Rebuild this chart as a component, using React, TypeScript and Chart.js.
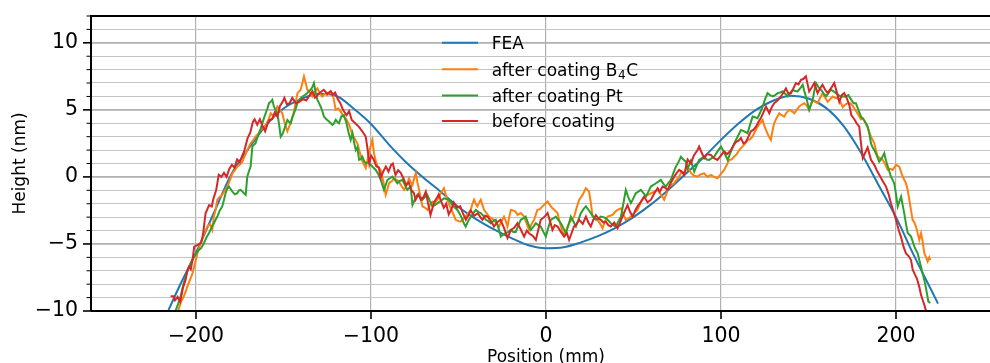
import React, { useEffect, useRef } from "react";
import { Chart, registerables } from "chart.js";

Chart.register(...registerables);

// ---------- data ----------
const xTicks = [-200, -100, 0, 100, 200];
const yTicks = [-10, -9, -8, -7, -6, -5, -4, -3, -2, -1, 0, 1, 2, 3, 4, 5, 6, 7, 8, 9, 10, 11, 12];
const legendLabels = ["FEA", "after coating B4C", "after coating Pt", "before coating"];

const fea: [number, number][] = [
  [-218, -10.6], [-210, -8.3], [-200, -5.65], [-190, -2.75], [-180, 0.15], [-170, 2.1], [-160, 3.85],
  [-150, 5.1], [-140, 5.8], [-130, 6.2], [-120, 6.05], [-110, 5.1], [-100, 3.95], [-90, 2.45],
  [-80, 1.1], [-70, -0.06], [-60, -1.12], [-50, -2.25], [-40, -3.15], [-30, -3.9], [-20, -4.55],
  [-10, -5.1], [0, -5.32], [10, -5.25], [20, -4.88], [30, -4.4], [40, -3.78], [50, -3.0],
  [60, -2.05], [70, -0.95], [80, 0.25], [90, 1.45], [100, 2.76], [110, 3.98], [120, 5.0],
  [130, 5.7], [140, 6.05], [150, 5.85], [160, 5.15], [170, 3.8], [180, 1.8], [190, -0.6],
  [200, -3.0], [210, -5.8], [220, -8.4], [224, -9.45],
];

const afterB4C: [number, number][] = [
  [-210.5, -10.2], [-209.7, -9.78], [-208.5, -9.3], [-207, -8.93], [-206, -8.6], [-205, -8.2], [-203.5, -7.7],
  [-202, -7.2], [-200.5, -6.4], [-199, -5.6], [-197.5, -5.0], [-196.4, -4.6], [-195, -4.1], [-193.5, -3.7],
  [-192, -3.5], [-190.7, -3.95], [-189.8, -2.96], [-188.8, -2.46], [-187.8, -1.7], [-186.5, -1.5],
  [-185, -1.34], [-183.5, -1.0], [-182, -0.72], [-180.5, -0.2], [-179.2, 0.27], [-177.8, 0.5],
  [-176.4, 0.77], [-175, 0.9], [-173.5, 1.14], [-172, 1.6], [-170.7, 2.0], [-168.8, 2.5], [-167.5, 2.7],
  [-166, 3.0], [-164.5, 3.2], [-163, 3.5], [-161.5, 3.7], [-160, 3.9], [-158.5, 4.3], [-157.3, 4.75],
  [-155.5, 4.5], [-154.5, 4.9], [-153.5, 5.25], [-152, 5.0], [-150.7, 4.75], [-149.3, 4.0], [-147.8, 3.4],
  [-146, 4.0], [-144, 4.87], [-143, 5.6], [-142, 6.25], [-140.2, 6.5], [-139.2, 7.0], [-138.3, 7.5],
  [-137.3, 7.0], [-136.4, 6.5], [-135, 6.3], [-133.5, 6.0], [-132, 6.4], [-130.6, 6.6], [-129.2, 6.2],
  [-127.8, 6.0], [-126.4, 6.2], [-125, 6.1], [-123.5, 6.3], [-122, 6.25], [-121, 5.6], [-120.2, 5.0],
  [-118.7, 5.1], [-117.3, 4.87], [-115.7, 4.5], [-114, 4.3], [-112.5, 3.9], [-111, 3.3], [-109.5, 2.9],
  [-107.8, 2.5], [-106.5, 1.9], [-105, 1.2], [-103, 0.65], [-101.5, 1.6], [-100.2, 2.3], [-99.2, 2.76],
  [-98.3, 1.77], [-97.3, 1.2], [-96.3, 0.77], [-94.5, 0.52], [-93, -0.3], [-91.6, -1.34], [-90.6, -0.9],
  [-89.7, -0.47], [-88, -0.3], [-86.8, -0.1], [-85.5, -0.2], [-84, -0.35], [-82.5, -0.7], [-81, -0.97],
  [-79.5, -0.6], [-78.3, -0.1], [-77.3, -0.4], [-76.3, -0.6], [-75.3, -0.1], [-74.4, 0.27], [-73.5, -0.4],
  [-72.5, -0.97], [-71.5, -1.6], [-70.6, -2.2], [-69, -2.3], [-67.7, -2.46], [-66.3, -2.1], [-64.9, -1.84],
  [-63.5, -1.9], [-62, -1.7], [-60, -1.2], [-58.3, -0.84], [-57.3, -1.3], [-56.3, -1.7], [-54.9, -2.2],
  [-53.5, -2.6], [-51.6, -3.2], [-50, -3.3], [-48.7, -3.34], [-47.3, -3.1], [-45.9, -2.96], [-44.4, -2.7],
  [-43, -2.46], [-42, -2.0], [-41.1, -1.7], [-40.1, -2.0], [-39.2, -2.2], [-38.2, -1.9], [-37.3, -1.7],
  [-36.3, -2.1], [-35.4, -2.46], [-34, -2.7], [-32.5, -2.96], [-31, -3.1], [-29.7, -3.2], [-28.2, -3.5],
  [-26.8, -3.7], [-25.4, -3.3], [-24, -2.96], [-23, -3.3], [-22, -3.7], [-21, -3.0], [-20.1, -2.46],
  [-18.7, -2.5], [-17.3, -2.6], [-16.3, -2.84], [-14.4, -2.7], [-12.5, -2.96], [-11, -3.5], [-9.7, -3.95],
  [-8.2, -3.5], [-6.8, -3.2], [-5.8, -2.8], [-4.9, -2.46], [-3.5, -2.4], [-2, -2.2], [-0.5, -2.0],
  [0.9, -1.84], [2.3, -2.1], [3.7, -2.34], [5.1, -2.5], [6.6, -2.7], [7.5, -3.2], [8.5, -3.7], [9.5, -4.1],
  [10.4, -4.33], [11.8, -3.9], [13.2, -3.45], [14.6, -3.2], [16.1, -2.96], [17.5, -2.3], [19, -1.7],
  [20.9, -1.34], [22.8, -0.84], [24.6, -1.1], [25.6, -1.9], [26.6, -2.96], [28, -3.1], [29.4, -3.2],
  [31, -3.5], [32.3, -3.83], [33.7, -3.3], [35.2, -2.96], [36.6, -2.9], [38, -2.84], [39.5, -2.6],
  [40.9, -2.46], [42.8, -2.34], [44.2, -2.8], [45.6, -3.2], [47, -3.1], [48.5, -2.96], [50.4, -2.7],
  [52.3, -2.46], [54.2, -1.9], [56.1, -1.47], [58, -1.35], [60, -1.22], [61.9, -1.1], [63.8, -0.97],
  [65.6, -1.3], [67.5, -1.7], [69, -1.2], [70.4, -0.72], [71.8, -0.6], [73.2, -0.47], [74.7, -0.2],
  [76.1, 0.02], [77.5, 0.4], [79, 0.3], [80.9, 0.8], [82.8, 0.3], [84.5, 0.1], [86.6, 0.02], [88.5, 0.2],
  [90.4, 0.27], [92.3, 0.0], [94.2, 0.15], [96, 0.0], [98, -0.1], [99.9, 0.2], [101.8, 0.52], [103.3, 0.9],
  [104.7, 1.27], [106, 1.3], [107.5, 1.5], [109, 1.7], [110.4, 2.0], [111.8, 2.2], [113.3, 2.4],
  [115.2, 2.76], [116.6, 2.8], [118, 3.0], [119.5, 3.4], [120.9, 3.75], [122.3, 4.0], [123.8, 4.25],
  [124.8, 3.8], [125.7, 3.5], [127, 3.1], [128.5, 2.76], [129.5, 3.5], [130.4, 4.0], [131.8, 4.4],
  [133.3, 4.75], [134.7, 4.6], [136.1, 4.5], [137.5, 4.8], [139, 5.0], [140.5, 4.9], [141.9, 4.75],
  [143.3, 5.0], [144.7, 5.25], [146.2, 5.4], [147.6, 5.5], [149, 5.3], [150.4, 5.0], [151.4, 5.4],
  [152.4, 5.75], [153.8, 5.6], [155.2, 5.5], [156.7, 5.9], [158.1, 6.25], [159.5, 5.9], [161, 5.6],
  [162.4, 5.8], [163.8, 6.0], [165.2, 5.9], [166.7, 5.87], [168.2, 5.6], [169.6, 5.2], [171, 5.4],
  [172.4, 5.5], [173.8, 5.5], [175.3, 5.3], [176.7, 5.0], [178.2, 4.7], [180, 4.3], [181, 4.38],
  [182.8, 4.0], [184.3, 3.5], [185.7, 3.0], [187.6, 2.5], [188.5, 2.0], [189.5, 1.5], [191, 1.4],
  [192.4, 1.27], [194, 0.9], [195.3, 0.52], [196.7, 0.6], [198.1, 0.52], [199, 0.7], [200, 0.9],
  [201.9, 0.77], [203.8, 0.02], [205.7, -0.47], [206.7, -1.0], [207.6, -1.7], [208.6, -2.5], [209.5, -3.2],
  [210.5, -3.4], [211.4, -3.7], [212.4, -4.2], [213.3, -4.7], [214.3, -4.2], [215.2, -4.8], [216.2, -5.7],
  [217.2, -6.0], [218.1, -6.3], [219, -6.0], [219.6, -6.2],
];

const afterPt: [number, number][] = [
  [-212.3, -10.3], [-211.5, -9.93], [-210, -9.4], [-208.8, -8.93], [-207.9, -8.4], [-207, -7.93], [-205.5, -7.3],
  [-204, -6.7], [-202.6, -6.3], [-201.2, -5.95], [-199.8, -5.7], [-198.3, -5.45], [-197, -5.3], [-195.5, -4.95],
  [-194, -4.5], [-192.6, -4.2], [-191.2, -3.8], [-189.8, -3.45], [-188.8, -3.2], [-187.8, -2.96], [-186.4, -2.5],
  [-185, -2.2], [-184, -1.7], [-183.1, -1.22], [-182.2, -0.9], [-181.2, -0.72], [-180.2, -0.9], [-179.2, -1.1],
  [-177.8, -1.3], [-176.4, -1.22], [-175.4, -1.0], [-174.5, -0.97], [-173.5, -1.1], [-172.6, -1.22],
  [-171.6, -1.34], [-170.7, 0.02], [-169.8, 0.4], [-168.8, 0.77], [-168.3, 1.5], [-167.8, 2.26], [-166.9, 2.4],
  [-166, 2.5], [-165, 2.9], [-164, 3.26], [-163, 3.6], [-162.1, 4.0], [-161.1, 4.4], [-160.2, 4.75],
  [-159.2, 5.1], [-158.3, 5.5], [-157.3, 5.6], [-156.4, 5.75], [-155.5, 5.25], [-154.5, 5.0], [-153.5, 4.75],
  [-152.5, 3.9], [-151.6, 3.0], [-150.6, 3.2], [-149.7, 3.5], [-148.7, 3.9], [-147.8, 4.25], [-146.8, 4.1],
  [-145.9, 4.0], [-145, 4.4], [-144, 4.75], [-143, 5.1], [-142.1, 5.5], [-140.7, 5.8], [-139.2, 6.0],
  [-137.8, 6.1], [-136.4, 6.25], [-135.5, 6.4], [-134.5, 6.5], [-133.5, 6.7], [-132.6, 7.0], [-131.6, 6.3],
  [-130.6, 5.75], [-129.7, 5.5], [-128.8, 5.25], [-127.8, 4.9], [-126.9, 4.5], [-125.5, 4.3], [-124, 4.13],
  [-123, 4.0], [-122, 3.88], [-121.1, 4.0], [-120.2, 4.25], [-119.2, 4.1], [-118.3, 4.0], [-117, 4.5],
  [-115.5, 4.6], [-114, 4.0], [-112.8, 3.3], [-111.6, 2.76], [-110.6, 3.26], [-109.7, 2.6], [-108.7, 2.0],
  [-107.8, 2.2], [-106.8, 1.27], [-105.9, 1.3], [-104.9, 1.5], [-104, 1.2], [-103, 1.0], [-101.6, 1.1],
  [-100.1, 0.9], [-98.7, 0.7], [-97.3, 0.52], [-95.8, 0.2], [-94.4, -0.22], [-93.5, -0.6], [-92.6, -0.97],
  [-91.6, -0.6], [-90.6, -0.22], [-89.2, -0.1], [-87.8, 0.02], [-86.4, -0.2], [-84.9, -0.47], [-83.5, -0.3],
  [-82, -0.22], [-80.6, -0.6], [-79.2, -0.97], [-78.3, -0.85], [-77.3, -0.72], [-76.3, -2.1], [-75, -1.7],
  [-73.5, -1.34], [-72, -1.5], [-70.6, -1.7], [-69.2, -1.5], [-67.8, -1.34], [-66.3, -1.8], [-64.9, -2.2],
  [-63.5, -2.1], [-62, -1.96], [-60.2, -1.8], [-58.3, -1.6], [-56.9, -1.65], [-55.4, -1.7], [-53.5, -2.1],
  [-52, -2.3], [-50.6, -2.46], [-49.1, -2.8], [-47.7, -3.2], [-46.8, -3.5], [-45.9, -3.7], [-44.5, -3.3],
  [-43, -2.96], [-41.5, -2.7], [-40.1, -2.46], [-38.7, -2.6], [-37.3, -2.7], [-35.8, -2.9], [-34.4, -3.2],
  [-33, -3.3], [-31.6, -3.45], [-30.1, -3.3], [-28.7, -3.2], [-27.2, -3.8], [-25.8, -4.45], [-24.4, -4.3],
  [-23, -4.2], [-21.5, -4.1], [-20.1, -3.95], [-18.7, -4.1], [-17.3, -4.1], [-15.8, -3.6], [-14.4, -3.2],
  [-13, -3.1], [-11.6, -2.96], [-10.1, -3.5], [-8.7, -3.95], [-7.2, -3.7], [-5.8, -3.45], [-4.4, -3.6],
  [-3, -3.7], [-1.5, -4.1], [-0.1, -4.45], [1.3, -3.8], [2.7, -3.2], [4.1, -3.1], [5.6, -2.96], [7, -3.2],
  [8.5, -3.45], [9.9, -3.8], [11.3, -4.2], [12.8, -3.6], [14.2, -2.96], [15.6, -3.3], [17.1, -3.7],
  [18.5, -3.2], [19.9, -2.7], [21.4, -2.4], [22.8, -2.2], [24.2, -2.45], [25.6, -2.7], [27, -2.95],
  [28.5, -3.2], [29.9, -3.1], [31.3, -2.96], [32.8, -3.0], [34.2, -3.08], [35.6, -3.25], [37, -3.45],
  [38.5, -3.6], [39.9, -3.7], [41.4, -3.3], [42.8, -2.96], [44.2, -2.0], [45.6, -0.97], [47, -1.5],
  [48.5, -1.96], [49.9, -1.6], [51.3, -1.22], [52.8, -1.1], [54.2, -0.97], [55.7, -1.2], [57.1, -1.47],
  [58.5, -1.1], [59.9, -0.72], [61.4, -0.6], [62.8, -0.47], [64.2, -0.35], [65.6, -0.22], [67, -0.5],
  [68.5, -0.72], [70, -0.45], [71.4, -0.22], [72.8, 0.3], [74.2, 0.77], [75.7, 1.1], [77.1, 1.5], [78.5, 1.3],
  [79.9, 1.14], [80.9, 0.6], [82.8, 1.2], [84.7, 0.4], [86, 0.8], [87.5, 1.27], [89, 1.4], [90.4, 1.5],
  [91.8, 1.3], [93.3, 1.27], [94.7, 1.4], [96.1, 1.5], [98, 1.9], [100, 2.26], [101.9, 1.8], [103.8, 1.27],
  [105.7, 1.9], [107.5, 2.5], [109.5, 3.0], [111.4, 3.5], [113.3, 3.4], [115.2, 3.26], [116.6, 3.9],
  [118.1, 4.5], [119.5, 4.45], [120.9, 4.38], [122.4, 4.8], [123.8, 5.25], [125.2, 5.8], [126.6, 6.25],
  [128, 6.1], [129.5, 6.0], [130.9, 6.1], [132.4, 6.25], [133.8, 6.3], [135.2, 6.37], [136.7, 6.2],
  [138.1, 6.0], [139.5, 6.25], [141, 6.5], [142.4, 6.4], [143.8, 6.37], [145.2, 6.6], [146.7, 6.87],
  [147.6, 6.4], [148.5, 6.0], [149.5, 5.5], [150.4, 5.0], [151.4, 5.4], [152.4, 5.75], [153.3, 6.4],
  [154.3, 7.0], [155.7, 6.7], [157.1, 6.5], [158.5, 6.25], [160, 6.0], [161.4, 6.25], [162.8, 6.5],
  [164.2, 6.4], [165.7, 6.25], [167.1, 6.1], [168.5, 6.0], [170, 6.0], [171.4, 6.0], [172.8, 6.1],
  [174.2, 5.8], [175.7, 5.5], [177.1, 5.5], [178.5, 5.0], [180, 4.5], [181.4, 4.3], [182.8, 4.0],
  [183.8, 3.75], [184.7, 3.26], [185.7, 2.5], [186.6, 2.2], [187.6, 2.0], [189, 1.6], [190.4, 1.14],
  [191.9, 1.4], [193.3, 1.77], [194.3, 1.2], [195.3, 0.77], [196.2, 0.4], [197.1, 0.02], [198, -0.2],
  [199, -0.47], [200, -1.3], [201, -2.2], [202, -1.8], [202.9, -1.47], [203.8, -2.1], [204.7, -2.7],
  [205.7, -3.5], [206.7, -4.2], [207.6, -4.3], [208.6, -4.45], [209.5, -4.8], [210.5, -5.2], [211.4, -5.45],
  [212.4, -5.7], [213.3, -6.2], [214.3, -6.7], [215.2, -7.2], [216.2, -7.7], [217, -8.2], [217.7, -8.7],
  [218.5, -9.3], [219.6, -9.4],
];

const beforeCoating: [number, number][] = [
  [-214.5, -8.9], [-213, -8.9], [-212, -9.2], [-210.5, -8.95], [-209, -9.3], [-207.5, -8.3], [-206, -7.7],
  [-205, -7.0], [-204, -6.7], [-203, -6.9], [-202, -6.2], [-201, -5.2], [-199.5, -5.1], [-198, -5.0],
  [-197, -4.9], [-196, -4.3], [-195, -3.2], [-194.5, -2.7], [-193.5, -2.4], [-192.5, -2.1], [-191, -2.2],
  [-190, -1.6], [-188.5, -1.0], [-187, 0.15], [-185.5, 0.0], [-184, 0.3], [-182.5, 0.0], [-181, 0.6],
  [-179.5, 0.9], [-178, 0.7], [-176.5, 1.3], [-175, 1.1], [-173.5, 1.6], [-172.5, 1.9], [-171.5, 2.4],
  [-170.5, 2.9], [-169, 3.3], [-167.5, 4.1], [-166.5, 4.3], [-165, 3.9], [-163.5, 4.3], [-162, 3.8],
  [-160.5, 3.4], [-159, 4.0], [-158, 4.25], [-156.5, 4.3], [-155, 4.8], [-153.5, 4.5], [-152, 5.3],
  [-150.5, 5.6], [-149.5, 5.9], [-148, 5.4], [-146.5, 5.5], [-145, 5.9], [-143, 5.5], [-141, 5.6],
  [-139, 5.8], [-137, 5.7], [-135.5, 6.0], [-133.5, 6.4], [-132, 5.9], [-130.5, 6.1], [-129, 6.3],
  [-127, 6.5], [-125, 6.2], [-123, 6.4], [-122, 6.1], [-120.5, 6.3], [-119, 5.8], [-117.5, 5.5],
  [-116, 5.0], [-114, 4.6], [-112.5, 4.9], [-111, 4.25], [-109, 4.0], [-107, 3.75], [-105, 3.4],
  [-103, 3.0], [-102, 2.1], [-101, 1.0], [-100, 1.6], [-98.5, 1.3], [-97, 0.8], [-95.5, 0.7], [-94.5, -0.07],
  [-93, 0.4], [-91.5, 0.77], [-90, 0.4], [-88.5, 0.9], [-87.5, 1.0], [-86, 0.15], [-84.5, 0.5], [-83, 0.3],
  [-81.5, -0.1], [-80, -0.6], [-78.5, -0.4], [-77, -0.97], [-75.5, -1.2], [-74.5, -1.7], [-73, -1.3],
  [-71.5, -1.7], [-70, -1.5], [-68.7, -1.1], [-67.5, -1.9], [-66, -2.84], [-64, -1.9], [-62.5, -1.6],
  [-61.3, -1.3], [-60, -1.8], [-58.4, -2.3], [-57, -2.0], [-55.6, -2.8], [-54, -2.4], [-52.7, -1.9],
  [-51, -2.3], [-49, -2.2], [-47.5, -2.7], [-45.8, -3.2], [-44.5, -2.9], [-43, -2.5], [-41, -2.9],
  [-39, -2.7], [-37.5, -3.0], [-36.3, -3.2], [-34.8, -2.9], [-33.4, -2.96], [-31.5, -3.3], [-29.7, -3.7],
  [-28, -3.4], [-26, -3.2], [-24, -3.8], [-22, -4.55], [-20, -3.95], [-18.2, -3.8], [-16.3, -3.45],
  [-14.5, -3.9], [-12.5, -4.45], [-11, -4.0], [-9.7, -4.2], [-7.5, -4.4], [-5.8, -4.7], [-4.5, -4.0],
  [-3, -3.2], [-1, -3.0], [0.9, -2.7], [2.3, -3.3], [3.7, -3.95], [5, -3.6], [6.6, -3.7], [8.5, -4.1],
  [10.4, -4.45], [12, -4.2], [13.2, -4.7], [14.6, -4.2], [16, -3.7], [17.5, -3.5], [19, -3.2], [21, -3.5],
  [22.8, -2.96], [24.2, -3.4], [25.6, -3.7], [27, -3.2], [28.5, -2.84], [30, -3.1], [31.3, -3.2],
  [32.8, -3.4], [34.2, -3.34], [35.6, -3.6], [37, -3.7], [39, -3.4], [40.9, -3.83], [42.3, -3.4],
  [43.7, -2.96], [45.2, -2.5], [46.6, -2.1], [48, -2.6], [49.5, -2.96], [51, -2.5], [52.3, -2.2],
  [54, -1.9], [56.1, -1.47], [58, -1.9], [60, -1.7], [62, -1.2], [63.8, -0.84], [65, -1.1], [66.6, -0.72],
  [68, -0.8], [69.5, -0.97], [71.5, -0.4], [73.3, 0.02], [74.7, 0.3], [76.1, 0.52], [77.5, 0.4], [79, 0.15],
  [80.9, 1.3], [82.8, 1.0], [84.5, 1.6], [86.6, 2.0], [87.5, 2.26], [89, 1.8], [90.4, 1.4], [92, 1.7],
  [94.2, 1.64], [96, 1.4], [98, 1.27], [100, 1.6], [101.8, 1.9], [103.5, 1.7], [105.7, 2.0], [107, 2.3],
  [108.5, 2.6], [110, 2.7], [111.4, 2.9], [112.8, 2.5], [114.2, 2.6], [115.7, 3.0], [117.1, 3.4],
  [118.5, 3.5], [120, 3.75], [121.4, 4.1], [122.8, 4.4], [124.2, 4.8], [125.7, 5.25], [127.6, 4.75],
  [129, 5.2], [130.4, 5.5], [132.3, 5.7], [134.2, 6.0], [135.7, 6.3], [137.1, 6.6], [138.5, 6.2],
  [140, 6.25], [141.4, 6.6], [142.8, 7.0], [144.3, 6.9], [145.7, 7.24], [147, 7.3], [148.5, 7.5],
  [149.5, 6.9], [150.4, 6.37], [152, 6.7], [153.3, 7.0], [154.3, 6.6], [155.2, 6.25], [156.6, 6.6],
  [158, 6.87], [159.5, 6.5], [160.9, 6.25], [162.8, 6.6], [164.7, 7.0], [166, 6.4], [167.6, 5.6],
  [169, 6.1], [170.4, 6.25], [171.8, 5.9], [173.3, 5.37], [174.5, 4.6], [176.2, 4.3], [177.5, 4.0],
  [179, 3.75], [180, 2.5], [181, 1.4], [182.4, 1.8], [183.8, 2.2], [184.8, 1.7], [185.7, 1.27],
  [187.6, 0.9], [189, 0.5], [190.5, 0.15], [192.4, -0.3], [194.3, -0.72], [195.8, -1.3], [197.1, -1.96],
  [198.6, -2.6], [200, -3.2], [201.4, -3.9], [202.8, -4.45], [204.3, -5.2], [205.7, -5.7], [207.2, -5.9],
  [208.6, -6.2], [209.5, -6.9], [210.5, -7.2], [212, -7.6], [213.3, -8.2], [214.3, -8.8], [215.3, -9.2],
  [216.3, -9.6], [217.2, -10.0], [217.6, -10.3],
];

const seriesColors = ["#1f77b4", "#ff7f0e", "#2ca02c", "#d62728"];

// ---------- layout constants ----------
const CANVAS_W = 1010;
const CANVAS_H = 380;
const AREA_LEFT = 91;
const AREA_TOP = 16;
const AREA_BOTTOM = 311;
const AREA_RIGHT = 1001;
const FONT = "'DejaVu Sans', sans-serif";

const fmt = (v: number) => (v < 0 ? "\u2212" + Math.abs(v) : String(v));

const decorPlugin = {
  id: "decor",
  afterDraw(chart: any) {
    const { ctx, chartArea, scales } = chart;
    const { left, right, top, bottom } = chartArea;
    ctx.save();
    // spines
    ctx.strokeStyle = "#000";
    ctx.lineWidth = 2;
    ctx.lineCap = "butt";
    ctx.beginPath();
    ctx.moveTo(left, bottom);
    ctx.lineTo(left, top);
    ctx.lineTo(right, top);
    ctx.lineTo(right, bottom);
    ctx.lineTo(left, bottom);
    ctx.stroke();
    // y tick marks
    for (const v of yTicks) {
      const y = scales.y.getPixelForValue(v);
      const major = v % 5 === 0;
      ctx.lineWidth = major ? 1.6 : 1;
      ctx.beginPath();
      ctx.moveTo(left, y);
      ctx.lineTo(left - (major ? 8 : 4.5), y);
      ctx.stroke();
    }
    // x tick marks
    for (const v of xTicks) {
      const x = scales.x.getPixelForValue(v);
      ctx.lineWidth = 1.6;
      ctx.beginPath();
      ctx.moveTo(x, bottom);
      ctx.lineTo(x, bottom + 8);
      ctx.stroke();
    }
    // axis titles
    ctx.fillStyle = "#000";
    ctx.font = `17px ${FONT}`;
    ctx.textAlign = "center";
    ctx.textBaseline = "alphabetic";
    ctx.fillText("Position (mm)", (left + right) / 2, 361.7);
    ctx.save();
    ctx.translate(25, (top + bottom) / 2);
    ctx.rotate(-Math.PI / 2);
    ctx.fillText("Height (nm)", 0, 0);
    ctx.restore();
    // legend
    const lx0 = 442;
    const lx1 = 478;
    const tx = 491.7;
    const rowsY = [42.7, 69.3, 95.5, 121];
    ctx.textAlign = "left";
    legendLabels.forEach((label, i) => {
      const y = rowsY[i];
      ctx.strokeStyle = seriesColors[i];
      ctx.lineWidth = 2;
      ctx.beginPath();
      ctx.moveTo(lx0, y);
      ctx.lineTo(lx1, y);
      ctx.stroke();
      ctx.fillStyle = "#000";
      ctx.font = `17px ${FONT}`;
      const base = y + 6.4;
      if (label.endsWith("B4C")) {
        const head = label.slice(0, -2);
        ctx.fillText(head, tx, base);
        let w = ctx.measureText(head).width;
        ctx.font = `12px ${FONT}`;
        ctx.fillText("4", tx + w + 0.5, base + 3);
        const w4 = ctx.measureText("4").width;
        ctx.font = `17px ${FONT}`;
        ctx.fillText("C", tx + w + w4 + 1, base);
      } else {
        ctx.fillText(label, tx, base);
      }
    });
    ctx.restore();
  },
};

export default function App() {
  const canvasRef = useRef<HTMLCanvasElement | null>(null);

  useEffect(() => {
    const canvas = canvasRef.current;
    if (!canvas) return;
    const toPts = (arr: [number, number][]) => arr.map(([x, y]) => ({ x, y }));
    const sets = [fea, afterB4C, afterPt, beforeCoating];
    const chart = new Chart(canvas, {
      type: "line",
      data: {
        datasets: sets.map((s, i) => ({
          label: legendLabels[i],
          data: toPts(s),
          borderColor: seriesColors[i],
          backgroundColor: seriesColors[i],
          borderWidth: 2,
          pointRadius: 0,
          fill: false,
          tension: i === 0 ? 0.4 : 0,
          cubicInterpolationMode: i === 0 ? "monotone" : "default",
          order: 4 - i,
          clip: 0,
        })),
      },
      options: {
        responsive: false,
        animation: false,
        events: [],
        layout: { padding: { top: AREA_TOP, right: CANVAS_W - AREA_RIGHT, left: 0, bottom: 0 } },
        plugins: { legend: { display: false }, tooltip: { enabled: false }, title: { display: false } },
        scales: {
          x: {
            type: "linear",
            min: -260,
            max: 260,
            afterFit: (scale: any) => {
              scale.height = CANVAS_H - AREA_BOTTOM;
              scale.paddingLeft = 0;
              scale.paddingRight = 0;
            },
            afterBuildTicks: (scale: any) => {
              scale.ticks = xTicks.map((v) => ({ value: v }));
            },
            grid: { color: "#b0b0b0", lineWidth: 1.2, drawTicks: false },
            border: { display: false },
            ticks: {
              autoSkip: false,
              maxRotation: 0,
              padding: 13,
              color: "#000",
              font: { family: FONT, size: 20.5 },
              callback: (v: any) => fmt(Number(v)),
            },
          },
          y: {
            type: "linear",
            min: -10,
            max: 12,
            afterFit: (scale: any) => {
              scale.width = AREA_LEFT;
              scale.paddingTop = 0;
              scale.paddingBottom = 0;
            },
            afterBuildTicks: (scale: any) => {
              scale.ticks = yTicks.map((v) => ({ value: v }));
            },
            grid: {
              drawTicks: false,
              color: (c: any) => (c.tick && c.tick.value % 5 === 0 ? "#b0b0b0" : "#c4c4c4"),
              lineWidth: (c: any) => (c.tick && c.tick.value % 5 === 0 ? 1.8 : 1.1),
            },
            border: { display: false },
            ticks: {
              autoSkip: false,
              padding: 13,
              color: "#000",
              font: { family: FONT, size: 20.5 },
              callback: (v: any) => (Number(v) % 5 === 0 ? fmt(Number(v)) : ""),
            },
          },
        },
      },
      plugins: [decorPlugin],
    } as any);
    return () => chart.destroy();
  }, []);

  return (
    <div
      style={{
        position: "fixed",
        left: 0,
        top: 0,
        width: 990,
        height: 363,
        overflow: "hidden",
        background: "#fff",
      }}
    >
      <canvas
        ref={canvasRef}
        width={CANVAS_W}
        height={CANVAS_H}
        style={{ display: "block", width: CANVAS_W, height: CANVAS_H }}
      />
    </div>
  );
}
